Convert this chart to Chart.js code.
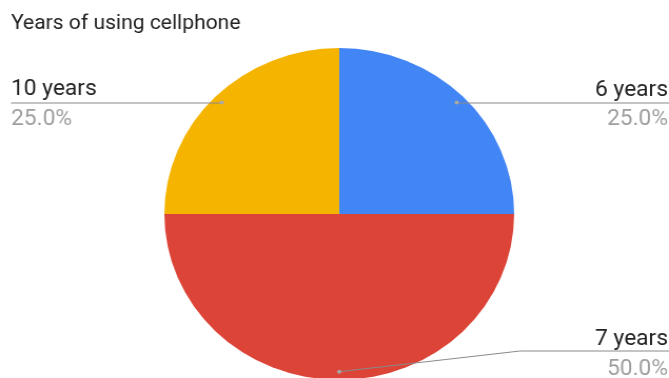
<!DOCTYPE html>
<html>
<head>
<meta charset="utf-8">
<script src="https://cdn.jsdelivr.net/npm/chart.js@4.4.1/dist/chart.umd.min.js"></script>
<style>
  html, body { margin: 0; padding: 0; background: #fff; overflow: hidden; width: 669px; height: 378px; }
  #wrap { position: absolute; left: 0; top: 0; width: 635px; height: 420px; transform: scaleX(1.05354); transform-origin: 0 0; }
</style>
</head>
<body>
<div id="wrap"><canvas id="c" width="635" height="420"></canvas></div>
<script>
const title = "Years of using cellphone";
const categories = ["6 years", "7 years", "10 years"];
const values = [25, 50, 25];
const colors = ["#4285F4", "#DB4437", "#F4B400"];

const S = 1.05354; // horizontal stretch of the wrapper
const total = values.reduce((a, b) => a + b, 0);

// label layout (screen px), per slice
const labelLayout = [
  { side: "right", textY: 96, lineY: 103, pctY: 125, elbowX: null },
  { side: "right", textY: 345, lineY: 351, pctY: 375, elbowX: 520 },
  { side: "left",  textY: 95, lineY: 103, pctY: 125, elbowX: null }
];

const labelPlugin = {
  id: "googleLabels",
  afterDraw(chart) {
    const ctx = chart.ctx;
    ctx.save();
    // title
    ctx.fillStyle = "#222222";
    ctx.font = "20px Roboto";
    ctx.textAlign = "left";
    ctx.textBaseline = "alphabetic";
    ctx.fillText(title, 11 / S, 29);

    const meta = chart.getDatasetMeta(0);
    meta.data.forEach((arc, i) => {
      const L = labelLayout[i];
      const mid = (arc.startAngle + arc.endAngle) / 2;
      const r = arc.outerRadius * 0.95;
      const dx = arc.x + Math.cos(mid) * r;
      const dy = arc.y + Math.sin(mid) * r;
      const leftX = 11 / S, rightX = 668 / S;
      ctx.strokeStyle = "#8a8a8a";
      ctx.lineWidth = 1;
      ctx.beginPath();
      ctx.moveTo(dx, dy);
      if (L.elbowX !== null) {
        ctx.lineTo(L.elbowX / S, L.lineY);
      } else {
        ctx.lineTo(dx, L.lineY);
      }
      ctx.lineTo(L.side === "right" ? 669 / S : leftX, L.lineY);
      ctx.stroke();
      ctx.fillStyle = "#a8a8a8";
      ctx.beginPath();
      ctx.arc(dx, dy, 2, 0, Math.PI * 2);
      ctx.fill();

      ctx.textAlign = L.side === "right" ? "right" : "left";
      const tx = L.side === "right" ? rightX : leftX;
      ctx.font = "21.6px Roboto";
      ctx.fillStyle = "#222222";
      ctx.fillText(categories[i], tx, L.textY);
      ctx.fillStyle = "#9e9e9e";
      ctx.fillText((values[i] / total * 100).toFixed(1) + "%", tx, L.pctY);
    });
    ctx.restore();
  }
};

new Chart(document.getElementById("c"), {
  type: "pie",
  data: {
    labels: categories,
    datasets: [{
      data: values,
      backgroundColor: colors,
      borderWidth: 0
    }]
  },
  options: {
    responsive: false,
    animation: false,
    layout: { padding: { left: 156, right: 147, top: 48, bottom: 40 } },
    plugins: {
      legend: { display: false },
      title: { display: false },
      tooltip: { enabled: false }
    }
  },
  plugins: [labelPlugin]
});
</script>
</body>
</html>
